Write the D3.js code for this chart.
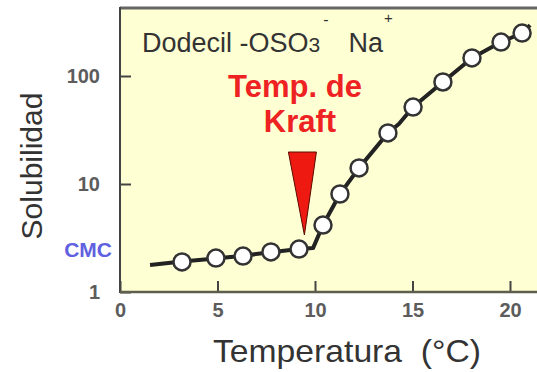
<!DOCTYPE html>
<html>
<head>
<meta charset="utf-8">
<script src="https://cdn.jsdelivr.net/npm/d3@7"></script>
<style>
  body { margin: 0; background: #fff; }
  svg { display: block; font-family: "Liberation Sans", Arial, sans-serif; }
</style>
</head>
<body>
<div id="chart"></div>
<script>
// measured points (temperature in C, solubility)
const tempC = [3.18, 4.92, 6.31, 7.74, 9.18, 10.41, 11.28, 12.26, 13.74, 15.03, 16.56, 18.05, 19.54, 20.62]
const solub = [1.90, 2.06, 2.15, 2.35, 2.50, 4.17, 8.08, 14.1, 29.7, 51.6, 88, 147, 206, 250]

// hand drawn trend line
const fitT = [1.54, 3.18, 4.92, 6.31, 7.74, 9.18, 9.9, 10.41, 11.28, 12.26, 13.74, 14.3, 15.03, 16.56, 18.05, 19.54, 20.62, 21.03]
const fitS = [1.78, 1.92, 2.04, 2.17, 2.33, 2.50, 2.55, 4.17, 8.08, 14.1, 29.7, 36, 51.6, 88, 147, 206, 250, 296]

const xTicks = [0, 5, 10, 15, 20]
const yTicks = [1, 10, 100]
const cmcValue = 2.45
const kraftT = 9.2

const W = 537, H = 372
const padL = 120, padB = 292, padT = 8

const svg = d3.select('#chart').append('svg').attr('width', W).attr('height', H)

const x = d3.scaleLinear().domain([0, 20]).range([padL, 510])
const y = d3.scaleLog().domain([1, 100]).range([padB, 76])

// plot background
svg.append('rect')
    .attr('x', padL).attr('y', padT)
    .attr('width', W - padL).attr('height', padB - padT)
    .attr('fill', '#ffffd4')

// axes
let gx = svg.append('g').attr('transform', 'translate(0,' + padB + ')')
    .call(d3.axisBottom(x).tickValues(xTicks).tickSizeInner(-11).tickSizeOuter(0).tickPadding(11))
gx.select('.domain').remove()

let gy = svg.append('g').attr('transform', 'translate(' + padL + ',0)')
    .call(d3.axisLeft(y).tickValues(yTicks).tickFormat(d3.format('d')).tickSizeInner(-11).tickSizeOuter(0).tickPadding(20))
gy.select('.domain').remove()

svg.selectAll('.tick line').attr('stroke', '#444').attr('stroke-width', 2)
svg.selectAll('.tick text')
    .attr('fill', '#5c5c5c')
    .style('font-size', '20px')
    .style('font-weight', 'bold')
    .style('font-family', '"Liberation Sans", Arial, sans-serif')

// frame lines
svg.append('line').attr('x1', padL).attr('x2', W).attr('y1', padT).attr('y2', padT)
    .attr('stroke', '#666').attr('stroke-width', 3)
svg.append('line').attr('x1', padL).attr('x2', padL).attr('y1', padT - 1).attr('y2', padB + 1)
    .attr('stroke', '#444').attr('stroke-width', 2)
svg.append('line').attr('x1', padL).attr('x2', W).attr('y1', padB).attr('y2', padB)
    .attr('stroke', '#5e5e4c').attr('stroke-width', 2.5)

// CMC label
svg.append('text')
    .attr('x', 112).attr('y', y(cmcValue))
    .attr('dy', '0.35em')
    .attr('text-anchor', 'end')
    .attr('fill', '#6060e0')
    .style('font-size', '21px')
    .style('font-weight', 'bold')
    .text('CMC')

// trend line
const line = d3.line().x(d => x(d[0])).y(d => y(d[1]))
svg.append('path')
    .datum(d3.zip(fitT, fitS))
    .attr('d', line)
    .attr('fill', 'none')
    .attr('stroke', '#222')
    .attr('stroke-width', 4)
    .attr('stroke-linejoin', 'round')

// points
svg.selectAll('circle.pt')
    .data(d3.zip(tempC, solub))
    .enter()
    .append('circle')
    .attr('class', 'pt')
    .attr('cx', d => x(d[0]))
    .attr('cy', d => y(d[1]))
    .attr('r', 8.5)
    .attr('fill', '#fff')
    .attr('stroke', '#333')
    .attr('stroke-width', 2.5)

// Kraft arrow
const tipX = x(kraftT) + 5, tipY = 235
svg.append('path')
    .attr('d', 'M' + (tipX - 16) + ',152 L' + (tipX + 12) + ',152 L' + tipX + ',' + tipY + ' Z')
    .attr('fill', '#ee1a12')
    .attr('stroke', '#5a0a00')
    .attr('stroke-width', 1)

svg.append('text')
    .attr('x', 295).attr('y', 97)
    .attr('text-anchor', 'middle')
    .attr('fill', '#ee2222')
    .style('font-size', '31px').style('font-weight', 'bold')
    .text('Temp. de')
svg.append('text')
    .attr('x', 300).attr('y', 132)
    .attr('text-anchor', 'middle')
    .attr('fill', '#ee2222')
    .style('font-size', '31px').style('font-weight', 'bold')
    .text('Kraft')

// compound label
let lab = svg.append('text')
    .attr('x', 142).attr('y', 52)
    .attr('fill', '#333')
    .style('font-size', '27px')
lab.append('tspan').text('Dodecil -OSO')
lab.append('tspan').style('font-size', '21px').text('3')
lab.append('tspan').attr('dy', -27).attr('dx', 3).style('font-size', '16px').text('-')
lab.append('tspan').attr('dy', 27).attr('dx', 20).text('Na')
lab.append('tspan').attr('dy', -29).attr('dx', 1).style('font-size', '15px').text('+')

// axis titles
svg.append('text')
    .attr('x', 347).attr('y', 362)
    .attr('text-anchor', 'middle')
    .attr('textLength', 268)
    .attr('lengthAdjust', 'spacingAndGlyphs')
    .attr('fill', '#333')
    .style('font-size', '32px')
    .text('Temperatura \u00a0(°C)')

svg.append('text')
    .attr('transform', 'translate(42,166) rotate(-90)')
    .attr('text-anchor', 'middle')
    .attr('fill', '#333')
    .style('font-size', '30px')
    .text('Solubilidad')
</script>
</body>
</html>
